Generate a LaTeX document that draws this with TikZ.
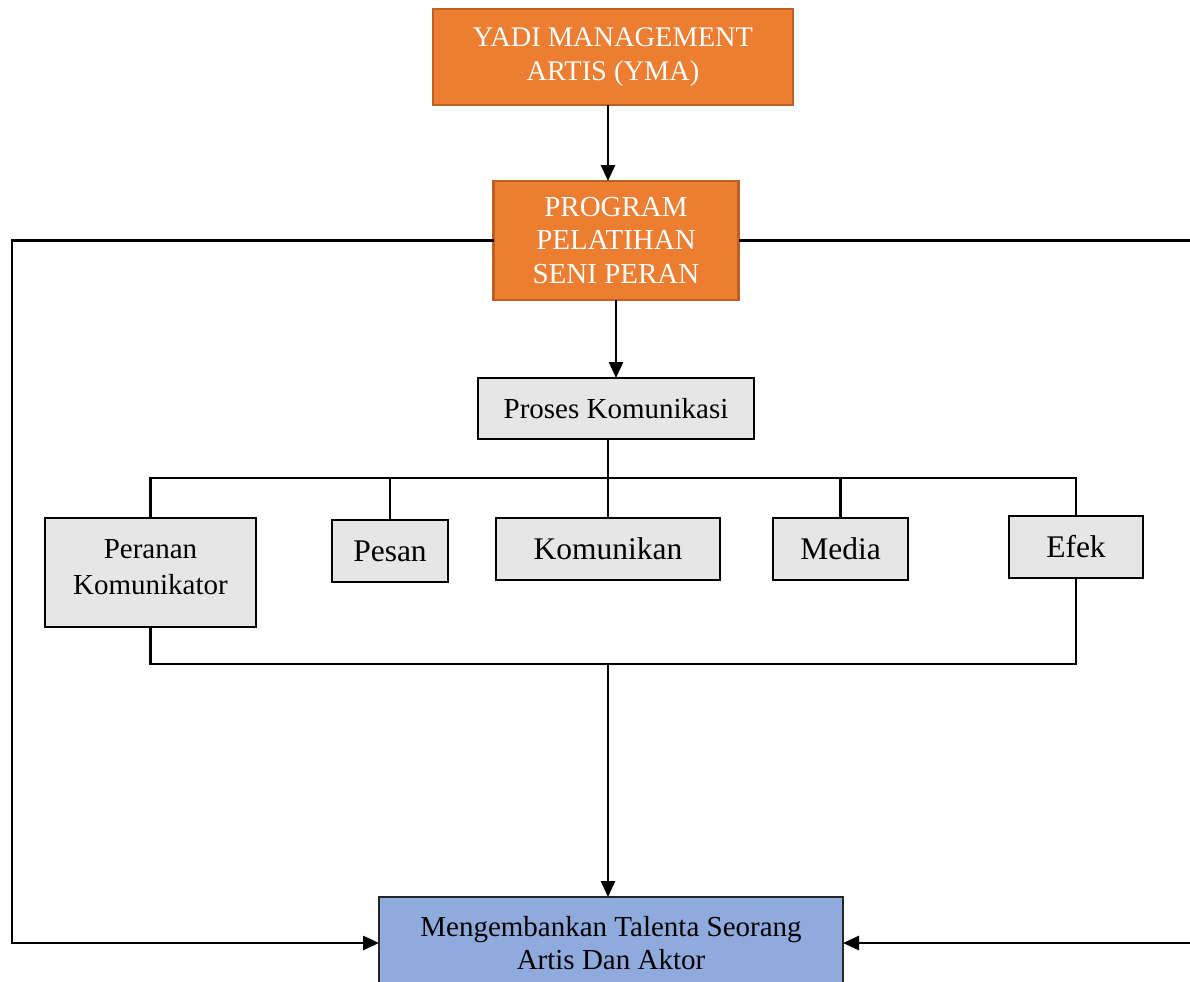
\documentclass[tikz,border=0pt]{standalone}
\usepackage{fontspec}
\setmainfont{Liberation Serif}
\usetikzlibrary{calc, arrows.meta}
\definecolor{ymaorange}{HTML}{ED7D31}
\definecolor{ymaedge}{RGB}{190,95,35}
\definecolor{procgray}{HTML}{E7E6E6}
\definecolor{resultblue}{HTML}{8FAADC}

\begin{document}
\begin{tikzpicture}[x=0.5pt, y=-0.5pt,
  line/.style={draw=black, line width=1.3pt},
  arr/.style={line, -{Triangle[length=8pt,width=7pt]}},
  topbox/.style={rectangle, draw=ymaedge, line width=1.2pt, fill=ymaorange, text=white, align=center, inner sep=0pt, outer sep=0pt},
  part/.style={rectangle, draw=black, line width=0.7pt, fill=procgray, align=center, inner sep=0pt, outer sep=0pt, font=\fontsize{15.75}{18}\selectfont},
  goal/.style={rectangle, draw=black!85, line width=1pt, fill=resultblue, align=center, inner sep=0pt, outer sep=0pt, font=\fontsize{14.5}{16.5}\selectfont}]

  \useasboundingbox (0,0) rectangle (1190,981);

  \node[topbox, minimum width=180pt, minimum height=48pt, font=\fontsize{14.2}{17}\selectfont] at (613,57) (yma) {YADI MANAGEMENT\\ARTIS (YMA)};
  \node[topbox, minimum width=122.5pt, minimum height=59.5pt, font=\fontsize{14.5}{16.8}\selectfont] at (616,240.5) (program) {PROGRAM\\PELATIHAN\\SENI PERAN};
  \node[part, minimum width=138pt, minimum height=30.5pt, font=\fontsize{14.5}{17}\selectfont] at (616,408.5) (proses) {Proses Komunikasi};

  \node[part, minimum width=105.5pt, minimum height=54.5pt, text depth=6pt, font=\fontsize{14.5}{18}\selectfont] at (150.5,572.5) (peranan) {Peranan\\Komunikator};
  \node[part, minimum width=58pt, minimum height=31pt] at (390,551) (pesan) {Pesan};
  \node[part, minimum width=112pt, minimum height=31pt] at (608,549) (komunikan) {Komunikan};
  \node[part, minimum width=67.5pt, minimum height=31pt] at (840.5,549) (media) {Media};
  \node[part, minimum width=67pt, minimum height=31pt] at (1076,547) (efek) {Efek};

  \node[goal, minimum width=232pt, minimum height=46pt] at (611,943) (result) {Mengembankan Talenta Seorang\\Artis Dan Aktor};

  \coordinate (mid) at (608,0);
  \coordinate (bus1) at (0,478);
  \coordinate (bus2) at (0,664);
  \coordinate (leftx) at (12,0);
  \coordinate (rightx) at (1205,0);

  \draw[arr] (yma.south -| mid) -- (program.north -| mid);
  \draw[arr] (program.south) -- (proses.north);

  \draw[line] (proses.south -| mid) -- (mid |- bus1);
  \draw[line] (peranan.north) |- (efek.north |- bus1) -- (efek.north);
  \draw[line] (pesan.north) -- (pesan.north |- bus1);
  \draw[line] (komunikan.north) -- (komunikan.north |- bus1);
  \draw[line] (media.north) -- (media.north |- bus1);

  \draw[line] (peranan.south) |- (efek.south |- bus2) -- (efek.south);
  \draw[arr] (mid |- bus2) -- (result.north -| mid);

  \draw[arr] (program.west) -| (leftx |- result.west) -- (result.west);
  \draw[arr] (program.east) -| (rightx |- result.east) -- (result.east);

\end{tikzpicture}
\end{document}
